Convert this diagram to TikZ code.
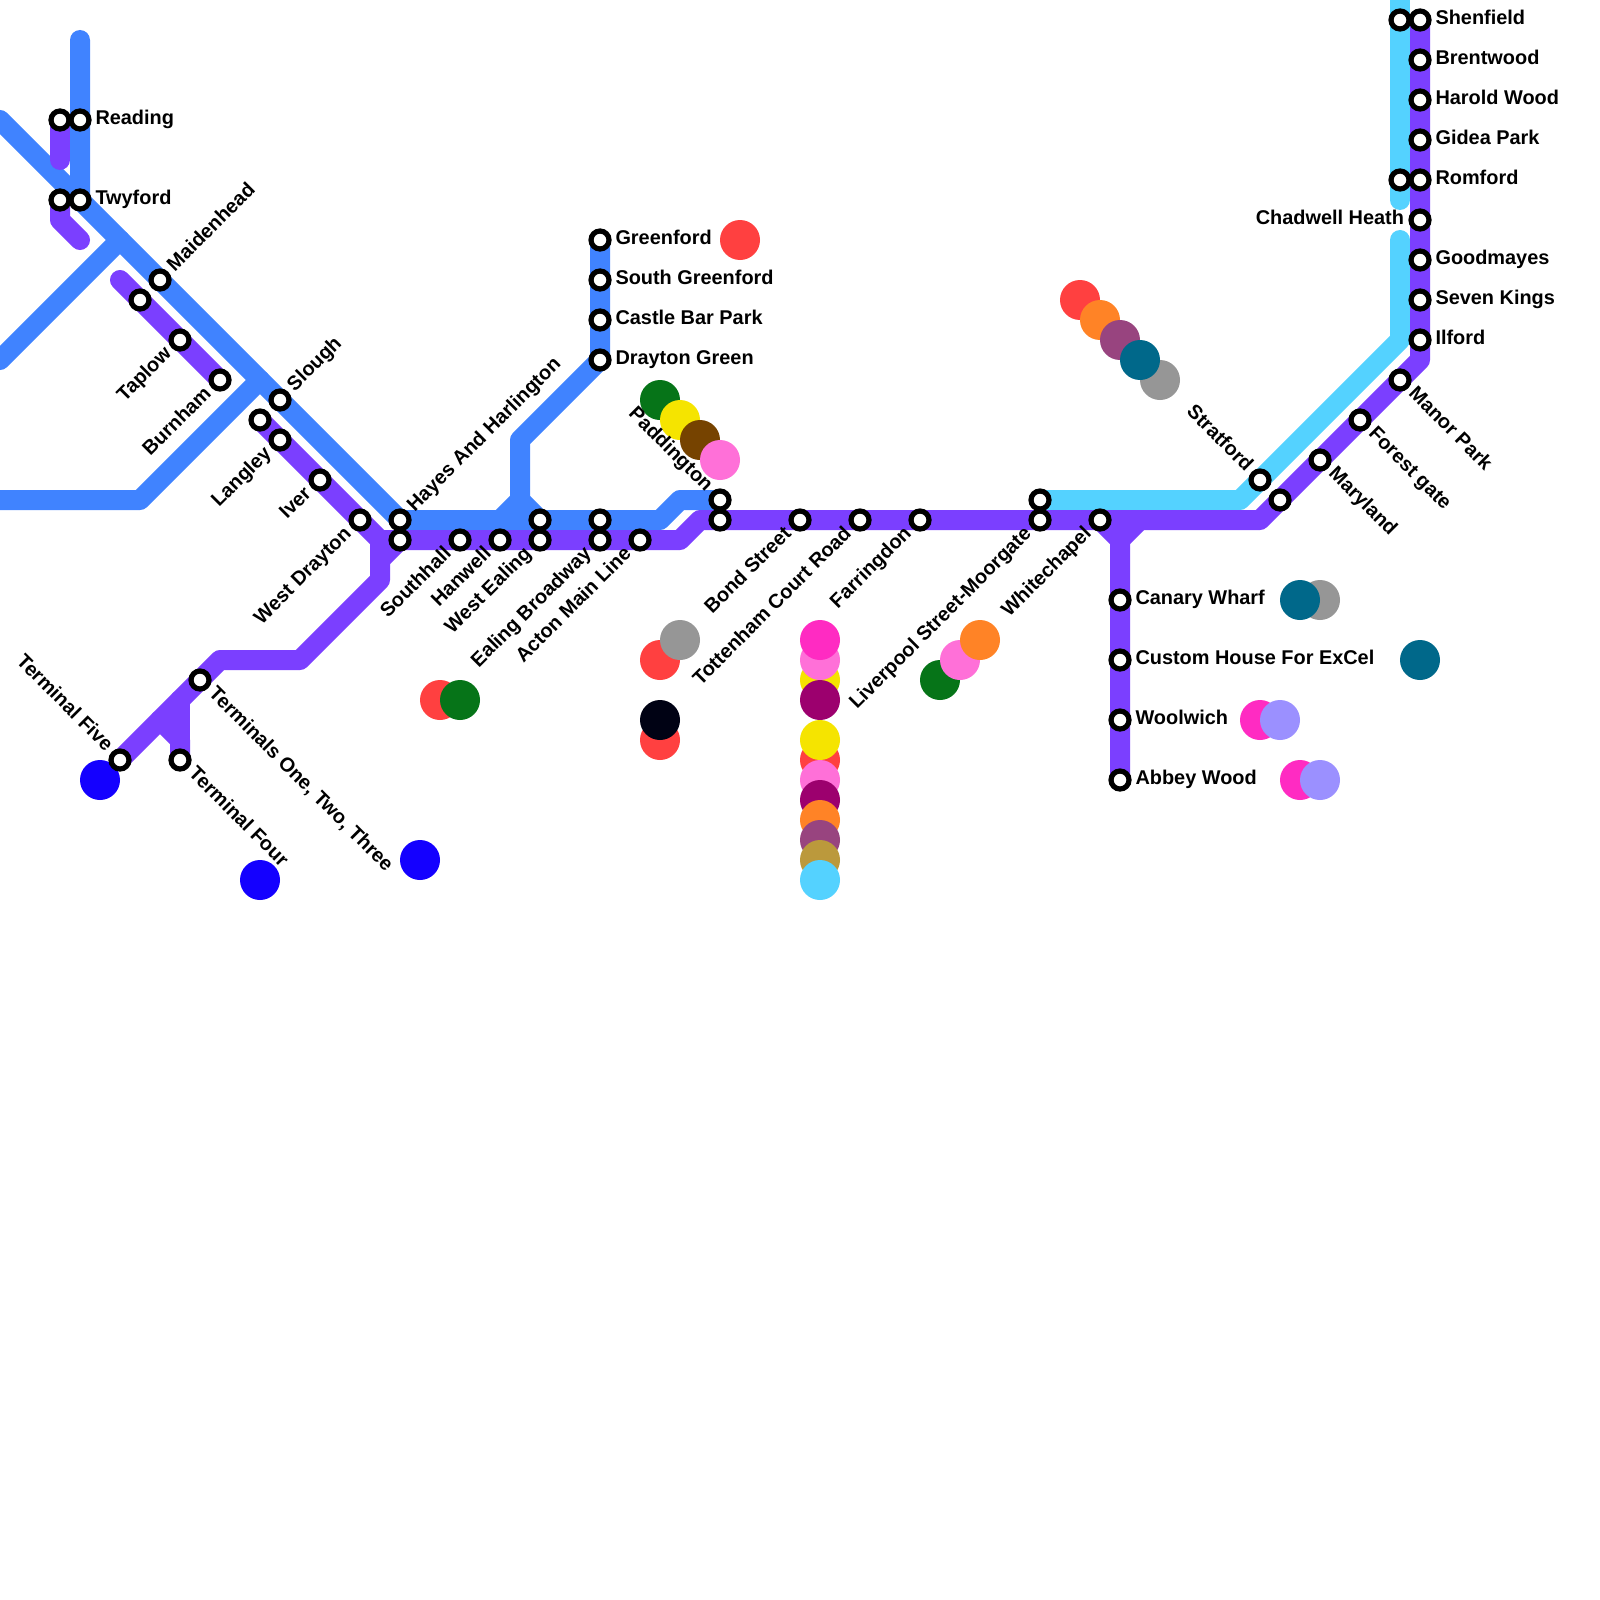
\documentclass[tikz,border=0pt]{standalone}
\usepackage{fontspec}
\setmainfont{Liberation Sans}
\usetikzlibrary{backgrounds}
\definecolor{lnblue}{RGB}{64,131,255}
\definecolor{lnpurple}{RGB}{123,63,255}
\definecolor{lncyan}{RGB}{84,210,255}
\definecolor{dred}{RGB}{255,64,64}
\definecolor{dblue}{RGB}{20,0,255}
\definecolor{dgreen}{RGB}{6,116,24}
\definecolor{dyellow}{RGB}{245,228,0}
\definecolor{dbrown}{RGB}{118,67,0}
\definecolor{dpink}{RGB}{255,112,216}
\definecolor{dorange}{RGB}{255,131,38}
\definecolor{dmauve}{RGB}{152,68,127}
\definecolor{dteal}{RGB}{0,104,138}
\definecolor{dgrey}{RGB}{150,150,150}
\definecolor{dblack}{RGB}{0,2,20}
\definecolor{dmagenta}{RGB}{255,43,194}
\definecolor{dplum}{RGB}{156,0,110}
\definecolor{dgold}{RGB}{187,153,60}
\definecolor{dlav}{RGB}{155,144,255}
\tikzset{
  x=1pt,y=-1pt,
  track/.style={line width=20pt,line cap=round,line join=round},
  blueline/.style={track,draw=lnblue},
  purpleline/.style={track,draw=lnpurple},
  cyanline/.style={track,draw=lncyan},
  dot/.style={circle,minimum size=40pt,inner sep=0pt,outer sep=0pt,fill=#1},
  stn/.style={circle,draw=black,fill=white,line width=5.2pt,minimum size=18pt,inner sep=0pt,outer sep=0pt},
  lbl/.style={inner sep=0pt,outer sep=0pt,font=\fontsize{19.9}{22}\selectfont\bfseries,text=black},
  lbE/.style={lbl,anchor=base west,xshift=15.5pt,yshift=-4.5pt},
  lbW/.style={lbl,anchor=base east,xshift=-16pt,yshift=-4.5pt},
  lbNE/.style={lbl,anchor=base west,xshift=14.8pt,yshift=7.8pt,rotate=45},
  lbSW/.style={lbl,anchor=base east,xshift=-7.8pt,yshift=-14.8pt,rotate=45},
  lbSE/.style={lbl,anchor=base west,xshift=7.8pt,yshift=-14.8pt,rotate=-45},
  lbNW/.style={lbl,anchor=base east,xshift=-14.8pt,yshift=7.8pt,rotate=-45},
}
\newcommand{\stnat}[3]{\node[stn] (#1) at (#2,#3) {};}
\newcommand{\dotat}[4]{\node[dot=#4] (#1) at (#2,#3) {};}
\begin{document}
\begin{tikzpicture}
\useasboundingbox (0,0) rectangle (1600,1600);
% colour dots
\dotat{dA}{100}{780}{dblue}
\dotat{dB}{260}{880}{dblue}
\dotat{dC}{420}{860}{dblue}
\dotat{dD}{740}{240}{dred}
\dotat{dE}{660}{400}{dgreen}
\dotat{dF}{680}{420}{dyellow}
\dotat{dG}{700}{440}{dbrown}
\dotat{dH}{720}{460}{dpink}
\dotat{dI}{1080}{300}{dred}
\dotat{dJ}{1100}{320}{dorange}
\dotat{dK}{1120}{340}{dmauve}
\dotat{dL}{1160}{380}{dgrey}
\dotat{dM}{1140}{360}{dteal}
\dotat{dN}{440}{700}{dred}
\dotat{dO}{460}{700}{dgreen}
\dotat{dP}{660}{660}{dred}
\dotat{dQ}{680}{640}{dgrey}
\dotat{dR}{660}{740}{dred}
\dotat{dS}{660}{720}{dblack}
\dotat{dT}{820}{680}{dyellow}
\dotat{dU}{820}{660}{dpink}
\dotat{dV}{820}{640}{dmagenta}
\dotat{dW}{820}{700}{dplum}
\dotat{dX}{820}{760}{dred}
\dotat{dY}{820}{740}{dyellow}
\dotat{dZ}{820}{780}{dpink}
\dotat{dAa}{820}{800}{dplum}
\dotat{dAb}{820}{820}{dorange}
\dotat{dAc}{820}{840}{dmauve}
\dotat{dAd}{820}{860}{dgold}
\dotat{dAe}{820}{880}{lncyan}
\dotat{dAf}{940}{680}{dgreen}
\dotat{dAg}{960}{660}{dpink}
\dotat{dAh}{980}{640}{dorange}
\dotat{dAi}{1320}{600}{dgrey}
\dotat{dAj}{1300}{600}{dteal}
\dotat{dAk}{1420}{660}{dteal}
\dotat{dAl}{1260}{720}{dmagenta}
\dotat{dAm}{1280}{720}{dlav}
\dotat{dAn}{1300}{780}{dmagenta}
\dotat{dAo}{1320}{780}{dlav}
% stations
\stnat{readingL}{60}{120}
\stnat{reading}{80}{120}
\stnat{twyfordL}{60}{200}
\stnat{twyford}{80}{200}
\stnat{maidenhead}{160}{280}
\stnat{maidenheadP}{140}{300}
\stnat{taplow}{180}{340}
\stnat{burnham}{220}{380}
\stnat{slough}{280}{400}
\stnat{langleyP}{260}{420}
\stnat{langley}{280}{440}
\stnat{iver}{320}{480}
\stnat{westdrayton}{360}{520}
\stnat{hayes}{400}{520}
\stnat{hayesP}{400}{540}
\stnat{southhall}{460}{540}
\stnat{hanwell}{500}{540}
\stnat{westealingB}{540}{520}
\stnat{westealing}{540}{540}
\stnat{ealingB}{600}{520}
\stnat{ealing}{600}{540}
\stnat{acton}{640}{540}
\stnat{paddingtonB}{720}{500}
\stnat{paddington}{720}{520}
\stnat{bond}{800}{520}
\stnat{tottenham}{860}{520}
\stnat{farringdon}{920}{520}
\stnat{liverpoolC}{1040}{500}
\stnat{liverpool}{1040}{520}
\stnat{whitechapel}{1100}{520}
\stnat{stratfordC}{1260}{480}
\stnat{stratford}{1280}{500}
\stnat{maryland}{1320}{460}
\stnat{forestgate}{1360}{420}
\stnat{manorpark}{1400}{380}
\stnat{ilford}{1420}{340}
\stnat{sevenkings}{1420}{300}
\stnat{goodmayes}{1420}{260}
\stnat{chadwell}{1420}{220}
\stnat{romford}{1420}{180}
\stnat{romfordC}{1400}{180}
\stnat{gidea}{1420}{140}
\stnat{harold}{1420}{100}
\stnat{brentwood}{1420}{60}
\stnat{shenfield}{1420}{20}
\stnat{shenfieldC}{1400}{20}
\stnat{canary}{1120}{600}
\stnat{custom}{1120}{660}
\stnat{woolwich}{1120}{720}
\stnat{abbey}{1120}{780}
\stnat{greenford}{600}{240}
\stnat{sgreenford}{600}{280}
\stnat{castlebar}{600}{320}
\stnat{drayton}{600}{360}
\stnat{tfive}{120}{760}
\stnat{tonetwo}{200}{680}
\stnat{tfour}{180}{760}
% labels
\node[lbE] (lReading) at (reading) {Reading};
\node[lbE] (lTwyford) at (twyford) {Twyford};
\node[lbNE] (lMaid) at (maidenhead) {Maidenhead};
\node[lbSW] (lTaplow) at (taplow) {Taplow};
\node[lbSW] (lBurnham) at (burnham) {Burnham};
\node[lbNE] (lSlough) at (slough) {Slough};
\node[lbSW] (lLangley) at (langley) {Langley};
\node[lbSW] (lIver) at (iver) {Iver};
\node[lbSW] (lWD) at (westdrayton) {West Drayton};
\node[lbNE] (lHayes) at (hayes) {Hayes And Harlington};
\node[lbSW] (lSouth) at (southhall) {Southhall};
\node[lbSW] (lHan) at (hanwell) {Hanwell};
\node[lbSW] (lWE) at (westealing) {West Ealing};
\node[lbSW] (lEB) at (ealing) {Ealing Broadway};
\node[lbSW] (lAct) at (acton) {Acton Main Line};
\node[lbNW] (lPad) at (paddingtonB) {Paddington};
\node[lbSW] (lBond) at (bond) {Bond Street};
\node[lbSW] (lTot) at (tottenham) {Tottenham Court Road};
\node[lbSW] (lFar) at (farringdon) {Farringdon};
\node[lbSW] (lLiv) at (liverpool) {Liverpool Street-Moorgate};
\node[lbSW] (lWhite) at (whitechapel) {Whitechapel};
\node[lbNW] (lStrat) at (stratfordC) {Stratford};
\node[lbSE] (lMary) at (maryland) {Maryland};
\node[lbSE] (lFor) at (forestgate) {Forest gate};
\node[lbSE] (lMan) at (manorpark) {Manor Park};
\node[lbE] (lIl) at (ilford) {Ilford};
\node[lbE] (lSev) at (sevenkings) {Seven Kings};
\node[lbE] (lGood) at (goodmayes) {Goodmayes};
\node[lbW] (lChad) at (chadwell) {Chadwell Heath};
\node[lbE] (lRom) at (romford) {Romford};
\node[lbE] (lGid) at (gidea) {Gidea Park};
\node[lbE] (lHar) at (harold) {Harold Wood};
\node[lbE] (lBre) at (brentwood) {Brentwood};
\node[lbE] (lShe) at (shenfield) {Shenfield};
\node[lbE] (lCan) at (canary) {Canary Wharf};
\node[lbE] (lCus) at (custom) {Custom House For ExCel};
\node[lbE] (lWoo) at (woolwich) {Woolwich};
\node[lbE] (lAbb) at (abbey) {Abbey Wood};
\node[lbE] (lGre) at (greenford) {Greenford};
\node[lbE] (lSG) at (sgreenford) {South Greenford};
\node[lbE] (lCB) at (castlebar) {Castle Bar Park};
\node[lbE] (lDG) at (drayton) {Drayton Green};
\node[lbNW] (lT5) at (tfive) {Terminal Five};
\node[lbSE] (lT123) at (tonetwo) {Terminals One, Two, Three};
\node[lbSE] (lT4) at (tfour) {Terminal Four};
% bends and free ends
\coordinate (bTop) at (80,40);
\coordinate (bWest) at (0,120);
\coordinate (bJ1) at (120,240);
\coordinate (bSW1) at (0,360);
\coordinate (bJ2) at (260,380);
\coordinate (bB1) at (140,500);
\coordinate (bSW2) at (0,500);
\coordinate (bE1) at (660,520);
\coordinate (bE2) at (680,500);
\coordinate (bG1) at (520,440);
\coordinate (bG2) at (520,500);
\coordinate (bG3) at (500,520);
\coordinate (bG4) at (540,520);
\coordinate (pRead) at (60,160);
\coordinate (pT1) at (60,220);
\coordinate (pT2) at (80,240);
\coordinate (pM1) at (120,280);
\coordinate (pA) at (380,540);
\coordinate (pB) at (380,560);
\coordinate (pC) at (380,580);
\coordinate (pD) at (300,660);
\coordinate (pE) at (220,660);
\coordinate (pF) at (160,720);
\coordinate (pG) at (180,740);
\coordinate (pH) at (180,700);
\coordinate (pM2) at (680,540);
\coordinate (pM3) at (700,520);
\coordinate (pM4) at (1260,520);
\coordinate (pM5) at (1420,360);
\coordinate (pW1) at (1140,520);
\coordinate (pW2) at (1120,540);
\coordinate (cA) at (1240,500);
\coordinate (cB) at (1400,340);
\coordinate (cC) at (1400,240);
\coordinate (cD) at (1400,200);
\coordinate (cE) at (1400,-20);
\begin{scope}[on background layer]
  \fill[white] (0,0) rectangle (1600,1600);
  % cyan
  \draw[cyanline] (liverpoolC.center) -- (cA) -- (cB) -- (cC);
  \draw[cyanline] (cE) -- (cD);
  % blue
  \draw[blueline] (bTop) -- (twyford.center) -- (hayes.center) -- (bE1) -- (bE2) -- (paddingtonB.center);
  \draw[blueline] (bWest) -- (twyford.center);
  \draw[blueline] (bJ1) -- (bSW1);
  \draw[blueline] (bJ2) -- (bB1) -- (bSW2);
  \draw[blueline] (greenford.center) -- (drayton.center) -- (bG1) -- (bG2) -- (bG3);
  \draw[blueline] (bG2) -- (bG4);
  % purple
  \draw[purpleline] (readingL.center) -- (pRead);
  \draw[purpleline] (twyfordL.center) -- (pT1) -- (pT2);
  \draw[purpleline] (pM1) -- (burnham.center);
  \draw[purpleline] (langleyP.center) -- (pA) -- (pC) -- (pD) -- (pE) -- (tfive.center);
  \draw[purpleline] (pA) -- (hayesP.center);
  \draw[purpleline] (hayesP.center) -- (pB);
  \draw[purpleline] (pF) -- (pG) -- (tfour.center);
  \draw[purpleline] (pH) -- (pG);
  \draw[purpleline] (hayesP.center) -- (pM2) -- (pM3) -- (pM4) -- (pM5) -- (shenfield.center);
  \draw[purpleline] (whitechapel.center) -- (pW2) -- (abbey.center);
  \draw[purpleline] (pW1) -- (pW2);
\end{scope}
\end{tikzpicture}
\end{document}
